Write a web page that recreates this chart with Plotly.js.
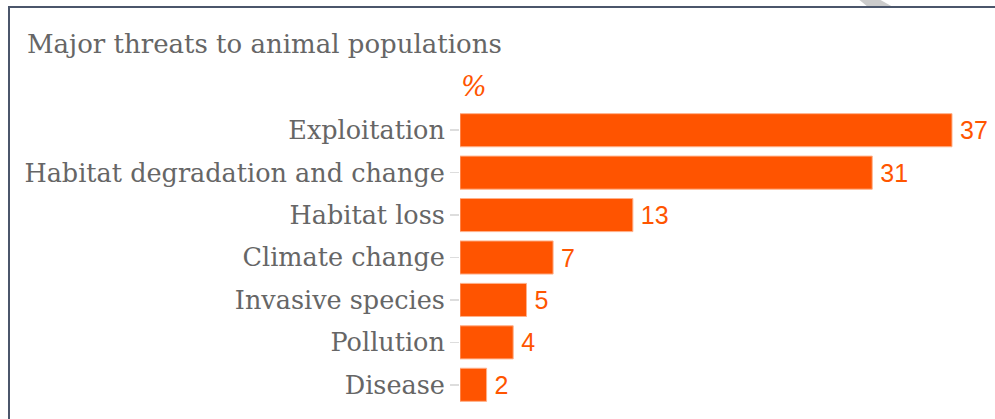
<!DOCTYPE html>
<html>
<head>
<meta charset="utf-8">
<script src="https://cdn.plot.ly/plotly-3.0.1.min.js"></script>
<style>
html,body{margin:0;padding:0;background:#fff;}
#wrap{position:relative;width:995px;height:419px;overflow:hidden;}
#frame{position:absolute;left:8px;top:6px;width:1100px;height:500px;border-left:2px solid #4b566b;border-top:2px solid #4b566b;pointer-events:none;z-index:5;}
#chart{position:absolute;left:0;top:0;width:995px;height:419px;}
</style>
</head>
<body>
<div id="wrap">
<div id="chart"></div>
<div id="frame"></div>
</div>
<script>
const categories = ["Exploitation","Habitat degradation and change","Habitat loss","Climate change","Invasive species","Pollution","Disease"];
const values = [37, 31, 13, 7, 5, 4, 2];
const valueLabels = ["37","31","13","7","5","4","2"];
const titleText = "Major threats to animal populations";
const unitText = "%";

const W = 995, H = 419;
const L = 460, R = 0, T = 109, B = 13;
const pw = W - L - R, ph = H - T - B;
const px = x => (x - L) / pw;
const py = y => (H - B - y) / ph;

const trace = {
  type: 'bar',
  orientation: 'h',
  y: categories,
  x: values,
  text: valueLabels,
  texttemplate: '\u2009%{text}',
  textposition: 'outside',
  constraintext: 'none',
  cliponaxis: false,
  textfont: {family: 'Liberation Sans, Arial, sans-serif', size: 25, color: '#ff5500'},
  marker: {color: '#ff5400', line: {width: 1, color: '#ffb089'}},
  hoverinfo: 'none'
};

const layout = {
  width: W, height: H,
  margin: {l: L, r: R, t: T, b: B, pad: 0},
  paper_bgcolor: '#ffffff',
  plot_bgcolor: '#ffffff',
  showlegend: false,
  bargap: 0.22,
  title: {
    text: titleText,
    xref: 'container', yref: 'container',
    x: 27 / W, xanchor: 'left',
    y: 1 - 44 / H, yanchor: 'middle',
    font: {family: 'DejaVu Serif, serif', size: 26, color: '#666666'}
  },
  xaxis: {
    range: [0, pw / (492 / 37)],
    showgrid: false, zeroline: false, showline: false,
    showticklabels: false, ticks: '', fixedrange: true
  },
  yaxis: {
    autorange: 'reversed',
    showgrid: false, zeroline: false, showline: false,
    ticks: 'outside', ticklen: 9, tickwidth: 1.5, tickcolor: '#dddddd',
    tickfont: {family: 'DejaVu Serif, serif', size: 25.5, color: '#666666'},
    fixedrange: true
  },
  annotations: [{
    text: '<i>' + unitText + '</i>',
    xref: 'paper', yref: 'paper',
    x: px(459), y: py(86),
    xanchor: 'left', yanchor: 'middle',
    showarrow: false,
    font: {family: 'DejaVu Serif, serif', size: 27, color: '#ff5500'}
  }],
  shapes: [{
    type: 'path', xref: 'paper', yref: 'paper',
    path: `M ${px(857)} ${py(-2)} L ${px(877)} ${py(-2)} L ${px(893)} ${py(7)} L ${px(868)} ${py(7)} Z`,
    fillcolor: '#cccccc', line: {width: 0}, layer: 'below'
  }]
};

Plotly.newPlot('chart', [trace], layout, {displayModeBar: false, staticPlot: true});
</script>
</body>
</html>
